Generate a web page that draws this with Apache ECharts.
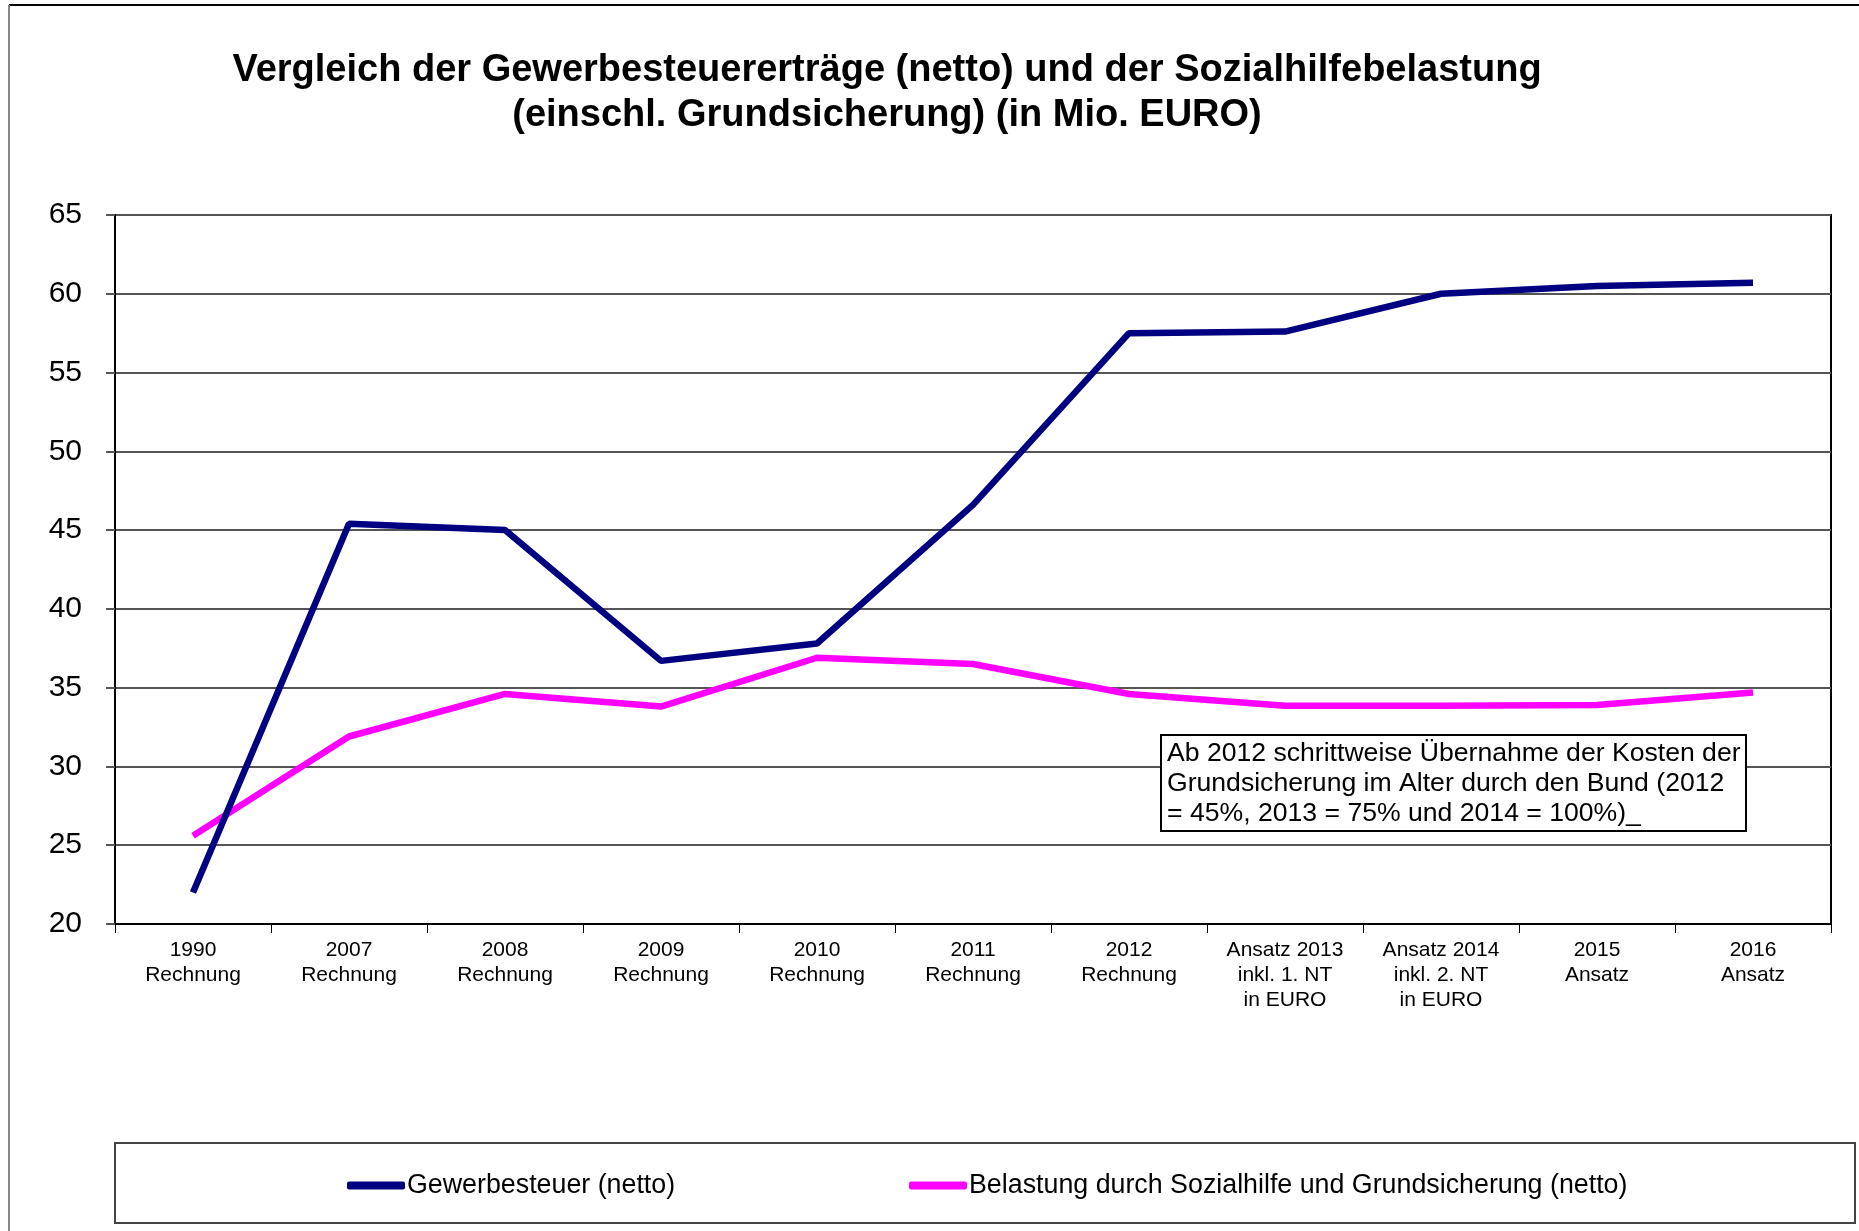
<!DOCTYPE html>
<html>
<head>
<meta charset="utf-8">
<script src="https://cdn.jsdelivr.net/npm/echarts@6/dist/echarts.min.js"></script>
<style>
html,body{margin:0;padding:0;background:#fff;}
#chart{width:1859px;height:1231px;}
</style>
</head>
<body>
<div id="chart"></div>
<script>
const categories = ['1990\nRechnung','2007\nRechnung','2008\nRechnung','2009\nRechnung','2010\nRechnung','2011\nRechnung','2012\nRechnung','Ansatz 2013\ninkl. 1. NT\nin EURO','Ansatz 2014\ninkl. 2. NT\nin EURO','2015\nAnsatz','2016\nAnsatz'];
const gewerbesteuer = [22.0, 45.4, 45.0, 36.7, 37.8, 46.6, 57.5, 57.6, 60.0, 60.5, 60.7];
const sozialhilfe = [25.6, 31.9, 34.6, 33.8, 36.9, 36.5, 34.6, 33.85, 33.85, 33.9, 34.7];
const seriesNames = ['Gewerbesteuer (netto)', 'Belastung durch Sozialhilfe und Grundsicherung (netto)'];
const titleText = 'Vergleich der Gewerbesteuererträge (netto) und der Sozialhilfebelastung\n(einschl. Grundsicherung) (in Mio. EURO)';
const noteText = 'Ab 2012 schrittweise Übernahme der Kosten der\nGrundsicherung im Alter durch den Bund (2012\n= 45%, 2013 = 75% und 2014 = 100%)_';

const FONT = '"Liberation Sans", Arial, sans-serif';
const chart = echarts.init(document.getElementById('chart'), null, {renderer: 'canvas'});
chart.setOption({
  animation: false,
  backgroundColor: '#fff',
  textStyle: {fontFamily: FONT, color: '#000'},
  title: [
    {
      text: titleText,
      left: 887, top: 48, textAlign: 'center', padding: 0,
      textStyle: {fontFamily: FONT, fontSize: 38, fontWeight: 'bold', lineHeight: 45, color: '#000'}
    },
    {
      text: noteText,
      left: 1161, top: 735, padding: [4, 6, 2, 6],
      borderColor: '#000', borderWidth: 2, backgroundColor: '#fff',
      textStyle: {fontFamily: FONT, fontSize: 26.6, fontWeight: 'normal', lineHeight: 30, color: '#000'}
    }
  ],
  grid: {left: 115, right: 28, top: 215, bottom: 307, show: true, borderColor: '#000', borderWidth: 2, backgroundColor: 'transparent'},
  legend: [
    {
      data: [seriesNames[0]], left: 342, top: 1167, icon: 'roundRect', itemWidth: 58, itemHeight: 8, itemGap: 0,
      textStyle: {fontFamily: FONT, fontSize: 26.8, color: '#000', padding: [0, 0, 0, -3]}
    },
    {
      data: [seriesNames[1]], left: 904, top: 1167, icon: 'roundRect', itemWidth: 58, itemHeight: 8, itemGap: 0,
      textStyle: {fontFamily: FONT, fontSize: 26.8, color: '#000', padding: [0, 0, 0, -3]}
    }
  ],
  xAxis: {
    type: 'category', data: categories, boundaryGap: true,
    axisLine: {lineStyle: {color: '#000', width: 2}},
    axisTick: {show: true, interval: 0, length: 9, lineStyle: {color: '#000', width: 1}},
    axisLabel: {interval: 0, fontFamily: FONT, fontSize: 21, lineHeight: 25, color: '#000', margin: 14},
    splitLine: {show: false}
  },
  yAxis: {
    type: 'value', min: 20, max: 65, interval: 5,
    axisLine: {show: true, lineStyle: {color: '#000', width: 2}},
    axisTick: {show: true, length: 9, lineStyle: {color: '#555', width: 2}},
    axisLabel: {fontFamily: FONT, fontSize: 30, color: '#000', margin: 33},
    splitLine: {show: true, lineStyle: {color: '#555', width: 2}}
  },
  series: [
    {
      name: seriesNames[0], type: 'line', data: gewerbesteuer, symbol: 'none',
      itemStyle: {color: '#000080'}, lineStyle: {color: '#000080', width: 6.5}, z: 3
    },
    {
      name: seriesNames[1], type: 'line', data: sozialhilfe, symbol: 'none',
      itemStyle: {color: '#FF00FF'}, lineStyle: {color: '#FF00FF', width: 6.5}, z: 2
    }
  ],
  graphic: [
    {type: 'line', shape: {x1: 9, y1: 5, x2: 1859, y2: 5}, style: {stroke: '#000', lineWidth: 2}, silent: true},
    {type: 'line', shape: {x1: 9, y1: 5, x2: 9, y2: 1231}, style: {stroke: '#888', lineWidth: 2}, silent: true},
    {type: 'rect', shape: {x: 115, y: 1143, width: 1740, height: 80}, style: {fill: 'none', stroke: '#444', lineWidth: 2}, silent: true}
  ]
});
</script>
</body>
</html>
